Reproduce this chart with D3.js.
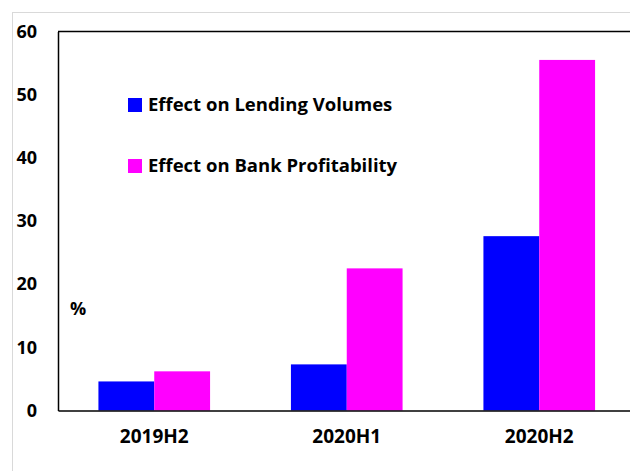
<!DOCTYPE html>
<html>
<head>
<meta charset="utf-8">
<script src="https://cdn.jsdelivr.net/npm/d3@7"></script>
<style>
  body { margin: 0; background: #fff; }
  svg text { font-family: "Open Sans", "DejaVu Sans", sans-serif; font-weight: bold; fill: #000; }
</style>
</head>
<body>
<div id="chart"></div>
<script>
const categories = ["2019H2", "2020H1", "2020H2"];
const seriesNames = ["Effect on Lending Volumes", "Effect on Bank Profitability"];
const lendingVolumes = [4.6, 7.3, 27.6];
const bankProfitability = [6.2, 22.5, 55.5];
const yTicks = [0, 10, 20, 30, 40, 50, 60];
const colors = ["#0000ff", "#ff00ff"];

const width = 630, height = 471;
const margin = { top: 31.5, right: -5.5, bottom: 60.5, left: 58 };

const svg = d3.select("#chart")
  .append("svg")
  .attr("width", width)
  .attr("height", height);

// light outer frame
svg.append("rect")
  .attr("x", 12.5).attr("y", 12.5)
  .attr("width", width).attr("height", height)
  .attr("fill", "none")
  .attr("stroke", "#d9d9d9");

const x0 = d3.scaleBand()
  .domain(categories)
  .range([margin.left, width - margin.right])
  .paddingInner(0.42)
  .paddingOuter(0.21);

const x1 = d3.scaleBand()
  .domain(seriesNames)
  .range([0, x0.bandwidth()]);

const y = d3.scaleLinear()
  .domain([0, 60])
  .range([height - margin.bottom, margin.top]);

const data = categories.map((c, i) => ({
  cat: c,
  values: [
    { name: seriesNames[0], value: lendingVolumes[i] },
    { name: seriesNames[1], value: bankProfitability[i] }
  ]
}));

// bars
svg.append("g")
  .selectAll("g")
  .data(data)
  .join("g")
  .attr("transform", (d) => `translate(${x0(d.cat)},0)`)
  .selectAll("rect")
  .data((d) => d.values)
  .join("rect")
  .attr("x", (d) => x1(d.name))
  .attr("y", (d) => y(d.value))
  .attr("width", x1.bandwidth())
  .attr("height", (d) => y(0) - y(d.value))
  .attr("fill", (d, i) => colors[i]);

// y axis
const yAxis = svg.append("g")
  .attr("transform", `translate(${margin.left},0)`)
  .call(d3.axisLeft(y).tickValues(yTicks).tickSize(0).tickPadding(21));
yAxis.select(".domain").attr("stroke", "#000").attr("stroke-width", 1.5);
yAxis.selectAll("text").attr("font-size", 18).style("font-family", null);

// x axis
const xAxis = svg.append("g")
  .attr("transform", `translate(0,${y(0)})`)
  .call(d3.axisBottom(x0).tickSize(0).tickPadding(19));
xAxis.select(".domain").attr("stroke", "#000").attr("stroke-width", 1.5);
xAxis.selectAll("text").attr("font-size", 19).style("font-family", null);

// top border of plot
svg.append("line")
  .attr("x1", margin.left).attr("x2", width)
  .attr("y1", y(60)).attr("y2", y(60))
  .attr("stroke", "#000").attr("stroke-width", 1.5);

// legend
const legend = svg.append("g")
  .selectAll("g")
  .data(seriesNames)
  .join("g")
  .attr("transform", (d, i) => `translate(128,${98 + i * 61})`);
legend.append("rect")
  .attr("width", 14).attr("height", 14)
  .attr("fill", (d, i) => colors[i]);
legend.append("text")
  .attr("x", 20).attr("y", 13)
  .attr("font-size", 18.5)
  .text((d) => d);

// unit label
svg.append("text")
  .attr("x", 70).attr("y", 315)
  .attr("font-size", 18)
  .text("%");
</script>
</body>
</html>
